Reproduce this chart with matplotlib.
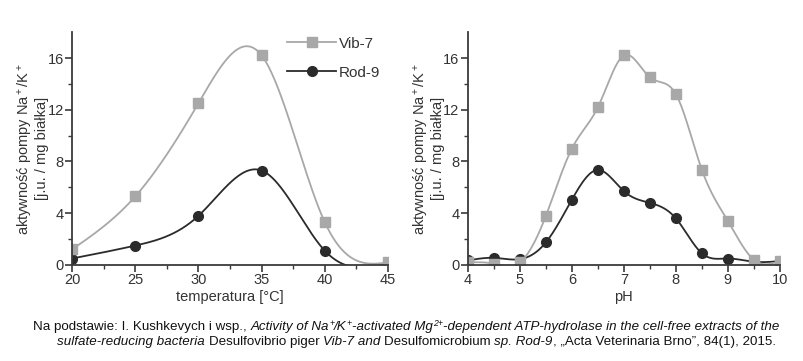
import numpy as np
import matplotlib
matplotlib.use("Agg")
import matplotlib.pyplot as plt

# dane
temp = [20, 25, 30, 35, 40, 45]
temp_vib7 = [1.2, 5.3, 12.5, 16.2, 3.3, 0.2]
temp_rod9 = [0.5, 1.5, 3.8, 7.3, 1.1, 0.1]

ph = [4, 4.5, 5, 5.5, 6, 6.5, 7, 7.5, 8, 8.5, 9, 9.5, 10]
ph_vib7 = [0.2, 0.1, 0.2, 3.8, 9.0, 12.2, 16.2, 14.5, 13.2, 7.35, 3.4, 0.4, 0.3]
ph_rod9 = [0.35, 0.55, 0.45, 1.75, 5.05, 7.35, 5.7, 4.8, 3.6, 0.9, 0.5, 0.25, 0.3]

yticks = [0, 4, 8, 12, 16]

plt.rcParams['font.family'] = ['Liberation Sans', 'DejaVu Sans']
plt.rcParams['mathtext.fontset'] = 'custom'
plt.rcParams['mathtext.rm'] = 'Liberation Sans'
plt.rcParams['mathtext.it'] = 'Liberation Sans:italic'

GRAY = '#a8a8a8'
DARK = '#2b2b2b'
AXC = '#3a3a3a'


def natural_spline(x, y, n=400):
    # naturalny splajn kubiczny (bez scipy)
    x = np.asarray(x, float)
    y = np.asarray(y, float)
    k = len(x)
    h = np.diff(x)
    A = np.zeros((k, k))
    b = np.zeros(k)
    A[0, 0] = 1
    A[-1, -1] = 1
    for i in range(1, k - 1):
        A[i, i - 1] = h[i - 1]
        A[i, i] = 2 * (h[i - 1] + h[i])
        A[i, i + 1] = h[i]
        b[i] = 6 * ((y[i + 1] - y[i]) / h[i] - (y[i] - y[i - 1]) / h[i - 1])
    M = np.linalg.solve(A, b)
    xs = np.linspace(x[0], x[-1], n)
    idx = np.clip(np.searchsorted(x, xs) - 1, 0, k - 2)
    x0, x1 = x[idx], x[idx + 1]
    hh = x1 - x0
    t0 = x1 - xs
    t1 = xs - x0
    ys = (M[idx] * t0 ** 3 + M[idx + 1] * t1 ** 3) / (6 * hh) \
        + (y[idx] / hh - M[idx] * hh / 6) * t0 \
        + (y[idx + 1] / hh - M[idx + 1] * hh / 6) * t1
    return xs, ys


fig = plt.figure(figsize=(8.04, 3.61), dpi=100)
ax1 = fig.add_axes([0.0896, 0.266, 0.393, 0.645])
ax2 = fig.add_axes([0.582, 0.266, 0.388, 0.645])


def draw_series(ax, x, y, color, marker, ms, z):
    xs, ys = natural_spline(x, y)
    ax.plot(xs, ys, color=color, lw=1.3, zorder=z)
    ax.plot(x, y, linestyle='none', marker=marker, ms=ms, color=color, zorder=z + 0.5)


draw_series(ax1, temp, temp_rod9, DARK, 'o', 7, 3)
draw_series(ax1, temp, temp_vib7, GRAY, 's', 6.5, 4)
draw_series(ax2, ph, ph_rod9, DARK, 'o', 7, 3)
draw_series(ax2, ph, ph_vib7, GRAY, 's', 6.5, 4)

for ax, xl, xt, xlab in [(ax1, (20, 45), [20, 25, 30, 35, 40, 45], 'temperatura [°C]'),
                         (ax2, (4, 10), [4, 5, 6, 7, 8, 9, 10], 'pH')]:
    ax.set_xlim(*xl)
    ax.set_ylim(0, 18)
    ax.set_xticks(xt)
    ax.set_xticks([v + (xt[1] - xt[0]) / 2 for v in xt[:-1]], minor=True)
    ax.set_yticks(yticks)
    ax.set_yticks([2, 6, 10, 14], minor=True)
    for s in ['top', 'right']:
        ax.spines[s].set_visible(False)
    for s in ['left', 'bottom']:
        ax.spines[s].set_color(AXC)
        ax.spines[s].set_linewidth(1.3)
        ax.spines[s].set_zorder(5)
    ax.tick_params(which='major', length=5, width=1.2, color=AXC, labelsize=10.5, labelcolor='#333333', pad=1)
    ax.tick_params(which='minor', length=3, width=1.0, color=AXC)
    ax.set_xlabel(xlab, fontsize=10.5, color='#333333', labelpad=2)
    ax.set_ylabel('aktywność pompy Na$^+$/K$^+$\n[j.u. / mg białka]', fontsize=10.5,
                  color='#333333', labelpad=-1, linespacing=1.0)

# legenda tylko na lewym wykresie
hv, = ax1.plot([], [], color=GRAY, lw=1.3, marker='s', ms=6.5)
hr, = ax1.plot([], [], color=DARK, lw=1.3, marker='o', ms=7)
ax1.legend([hv, hr], ['Vib-7', 'Rod-9'], loc='upper right', bbox_to_anchor=(1.02, 1.04),
           frameon=False, fontsize=11, handlelength=3.2, labelspacing=1.0,
           handletextpad=0.2, labelcolor='#333333', numpoints=1)

# podpis pod wykresem, z kursywą w części
line1 = [("Na podstawie: I. Kushkevych i wsp., ", 'normal', False),
         ("Activity of Na", 'italic', False), ("+", 'italic', True),
         ("/K", 'italic', False), ("+", 'italic', True),
         ("-activated Mg", 'italic', False), ("2+", 'italic', True),
         ("-dependent ATP-hydrolase in the cell-free extracts of the", 'italic', False)]
line2 = [("sulfate-reducing bacteria ", 'italic', False),
         ("Desulfovibrio piger ", 'normal', False),
         ("Vib-7 and ", 'italic', False),
         ("Desulfomicrobium ", 'normal', False),
         ("sp. Rod-9", 'italic', False),
         (", \u201eActa Veterinaria Brno\u201d, 84(1), 2015.", 'normal', False)]

fig.canvas.draw()
r = fig.canvas.get_renderer()
W = fig.bbox.width
for segs, x0, y0 in [(line1, 33, 361 - 330), (line2, 57, 361 - 345)]:
    x = x0
    for txt, st, sup in segs:
        fs = 6.3 if sup else 9.6
        yy = y0 + (4 if sup else 0)
        t = fig.text(x / W, yy / 361, txt, fontsize=fs, style=st,
                     color='#111111', va='baseline', ha='left')
        x += t.get_window_extent(r).width

fig.savefig('out.png', dpi=100)
